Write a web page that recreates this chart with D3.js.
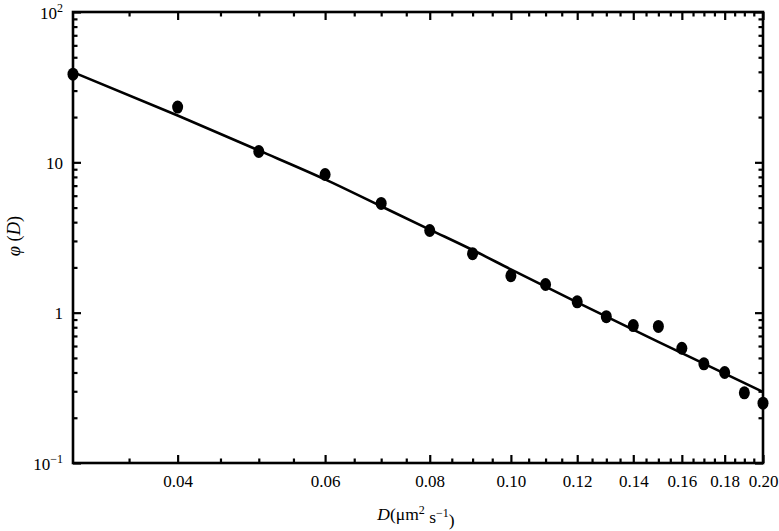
<!DOCTYPE html>
<html>
<head>
<meta charset="utf-8">
<script src="https://cdn.jsdelivr.net/npm/d3@7/dist/d3.min.js"></script>
<style>
  html, body { margin: 0; padding: 0; background: #fff; }
  svg { display: block; }
  text { font-family: "Liberation Serif", "Times New Roman", serif; fill: #000; }
</style>
</head>
<body>
<svg id="chart" width="779" height="531"></svg>
<script>
// Data
const diffusion = [0.03, 0.04, 0.05, 0.06, 0.07, 0.08, 0.09, 0.10, 0.11, 0.12, 0.13, 0.14, 0.15, 0.16, 0.17, 0.18, 0.19, 0.20];
const phiValues = [38.6, 23.3, 11.8, 8.3, 5.33, 3.52, 2.47, 1.76, 1.54, 1.18, 0.94, 0.82, 0.81, 0.58, 0.457, 0.40, 0.293, 0.25];

// fitted curve samples
const fitD = [0.03, 0.04, 0.05, 0.06, 0.07, 0.08, 0.09, 0.10, 0.12, 0.15, 0.20];
const fitPhi = [39.8, 20.5, 12.0, 7.7, 5.1, 3.57, 2.61, 1.94, 1.17, 0.64, 0.297];

const xMajorTicks = [0.04, 0.06, 0.08, 0.10, 0.12, 0.14, 0.16, 0.18, 0.20];
const xTickLabels = ["0.04", "0.06", "0.08", "0.10", "0.12", "0.14", "0.16", "0.18", "0.20"];
const yMajorTicks = [0.1, 1, 10, 100];
const yTickLabels = [["10", "\u22121"], ["1", null], ["10", null], ["10", "2"]];

const margin = {left: 73, right: 16, top: 12, bottom: 68};
const W = 779, H = 531;
const svg = d3.select("#chart");

const x = d3.scaleLog().domain([0.03, 0.20]).range([margin.left, W - margin.right]);
const y = d3.scaleLog().domain([0.1, 100]).range([H - margin.bottom, margin.top]);

const x0 = x.range()[0], x1 = x.range()[1];
const y0 = y.range()[0], y1 = y.range()[1];

// minor ticks
const xMinor = d3.range(35, 200, 5).map(v => v / 1000).filter(v => !xMajorTicks.some(m => Math.abs(m - v) < 1e-9));
const yMinor = [];
[0.1, 1, 10].forEach(dec => { for (let k = 2; k <= 9; k++) yMinor.push(dec * k); });

const majorLen = 8, minorLen = 4.5;
const axisStroke = 2.6;

const gAx = svg.append("g");

function styleAxis(g) {
  g.select(".domain").remove();
  g.selectAll(".tick line").attr("stroke", "#000").attr("stroke-width", 2.2);
}

// bottom
gAx.append("g").attr("transform", `translate(0,${y0})`)
  .call(d3.axisBottom(x).tickValues(xMinor).tickSize(-minorLen).tickFormat(""))
  .call(styleAxis);
const bottom = gAx.append("g").attr("transform", `translate(0,${y0})`)
  .call(d3.axisBottom(x).tickValues(xMajorTicks).tickSize(-majorLen).tickPadding(12)
    .tickFormat((d, i) => xTickLabels[i]))
  .call(styleAxis);
bottom.selectAll("text").attr("font-size", 17).attr("font-family", "Liberation Serif");

// top
gAx.append("g").attr("transform", `translate(0,${y1})`)
  .call(d3.axisTop(x).tickValues(xMinor).tickSize(-minorLen).tickFormat(""))
  .call(styleAxis);
gAx.append("g").attr("transform", `translate(0,${y1})`)
  .call(d3.axisTop(x).tickValues(xMajorTicks).tickSize(-majorLen).tickFormat(""))
  .call(styleAxis);

// left
gAx.append("g").attr("transform", `translate(${x0},0)`)
  .call(d3.axisLeft(y).tickValues(yMinor).tickSize(-minorLen).tickFormat(""))
  .call(styleAxis);
const left = gAx.append("g").attr("transform", `translate(${x0},0)`)
  .call(d3.axisLeft(y).tickValues(yMajorTicks).tickSize(-majorLen).tickPadding(10).tickFormat(""))
  .call(styleAxis);
left.selectAll(".tick").each(function(d, i) {
  const t = d3.select(this).select("text");
  t.attr("font-size", 17).attr("font-family", "Liberation Serif").attr("dy", "0.36em");
  const lab = yTickLabels[i];
  t.text(null);
  t.append("tspan").text(lab[0]);
  if (lab[1]) {
    t.append("tspan").attr("font-size", 12).attr("dy", "-0.55em").text(lab[1]);
  }
});

// right
gAx.append("g").attr("transform", `translate(${x1},0)`)
  .call(d3.axisRight(y).tickValues(yMinor).tickSize(-minorLen).tickFormat(""))
  .call(styleAxis);
gAx.append("g").attr("transform", `translate(${x1},0)`)
  .call(d3.axisRight(y).tickValues(yMajorTicks).tickSize(-majorLen).tickFormat(""))
  .call(styleAxis);

// frame
svg.append("rect")
  .attr("x", x0).attr("y", y1)
  .attr("width", x1 - x0).attr("height", y0 - y1)
  .attr("fill", "none").attr("stroke", "#000").attr("stroke-width", axisStroke);

// fitted line
const fit = fitD.map((d, i) => [d, fitPhi[i]]);
svg.append("path")
  .datum(fit)
  .attr("fill", "none")
  .attr("stroke", "#000")
  .attr("stroke-width", 2.6)
  .attr("d", d3.line().x(d => x(d[0])).y(d => y(d[1])).curve(d3.curveMonotoneX));

// data points
svg.append("g").selectAll("ellipse")
  .data(diffusion.map((d, i) => [d, phiValues[i]]))
  .join("ellipse")
  .attr("cx", d => x(d[0]))
  .attr("cy", d => y(d[1]))
  .attr("rx", 5.5)
  .attr("ry", 6.5)
  .attr("fill", "#000");

// axis titles
const xt = svg.append("text")
  .attr("x", 416).attr("y", 520)
  .attr("text-anchor", "middle")
  .attr("font-size", 17.5);
xt.append("tspan").attr("font-style", "italic").text("D");
xt.append("tspan").text("(\u03bcm");
xt.append("tspan").attr("font-size", 12).attr("dy", "-0.5em").text("2");
xt.append("tspan").attr("dy", "0.5em").text(" s");
xt.append("tspan").attr("font-size", 12).attr("dy", "-0.5em").text("\u22121");
xt.append("tspan").attr("dy", "0.5em").text(")");

const yt = svg.append("text")
  .attr("transform", "translate(20,236) rotate(-90)")
  .attr("text-anchor", "middle")
  .attr("font-size", 18.5);
yt.append("tspan").attr("font-style", "italic").text("\u03c6");
yt.append("tspan").text(" (");
yt.append("tspan").attr("font-style", "italic").text("D");
yt.append("tspan").text(")");
</script>
</body>
</html>
